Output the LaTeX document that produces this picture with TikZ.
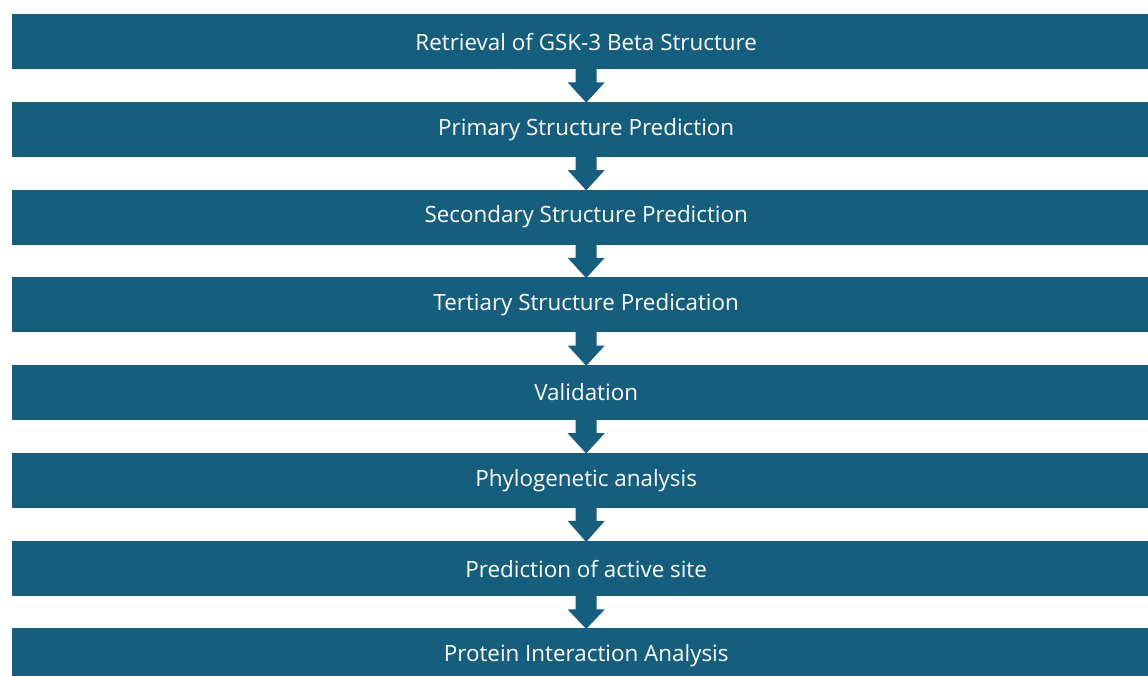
\documentclass[tikz,border=0pt]{standalone}
\usepackage{fontspec}
\setmainfont{Open Sans}
\usetikzlibrary{calc}
\definecolor{flowblue}{HTML}{165E7E}
\tikzset{
  x=1pt, y=1pt,
  stage/.style={fill=flowblue, text=white, minimum width=1148pt, minimum height=55pt,
    inner sep=0pt, anchor=north west, font=\fontsize{22.4}{26}\selectfont},
  flow/.style={fill=flowblue}
}
% block arrow from the bottom of one stage to the top of the next
\newcommand{\flowarrow}[2]{%
  \fill[flow] ($(#1.south)+(-10.5,1)$) -- ($(#1.south)+(-10.5,-13)$)
    -- ($(#1.south)+(-18.5,-13)$) -- ($(#2.north)+(0,-1)$)
    -- ($(#1.south)+(18.5,-13)$) -- ($(#1.south)+(10.5,-13)$)
    -- ($(#1.south)+(10.5,1)$) -- cycle;}
\begin{document}
\begin{tikzpicture}
\useasboundingbox (0,0) rectangle (1148,-675);
\begin{scope}
\clip (0,0) rectangle (1148,-675);
\node[stage] (s1) at (12,-14.0) {Retrieval of GSK-3 Beta Structure};
\node[stage] (s2) at (12,-101.7) {Primary Structure Prediction};
\node[stage] (s3) at (12,-189.4) {Secondary Structure Prediction};
\node[stage] (s4) at (12,-277.1) {Tertiary Structure Predication};
\node[stage] (s5) at (12,-364.8) {Validation};
\node[stage] (s6) at (12,-452.5) {Phylogenetic analysis};
\node[stage] (s7) at (12,-541.0) {Prediction of active site};
\node[stage] (s8) at (12,-628.0) {Protein Interaction Analysis};
\flowarrow{s1}{s2}
\flowarrow{s2}{s3}
\flowarrow{s3}{s4}
\flowarrow{s4}{s5}
\flowarrow{s5}{s6}
\flowarrow{s6}{s7}
\flowarrow{s7}{s8}
\end{scope}
\end{tikzpicture}
\end{document}
